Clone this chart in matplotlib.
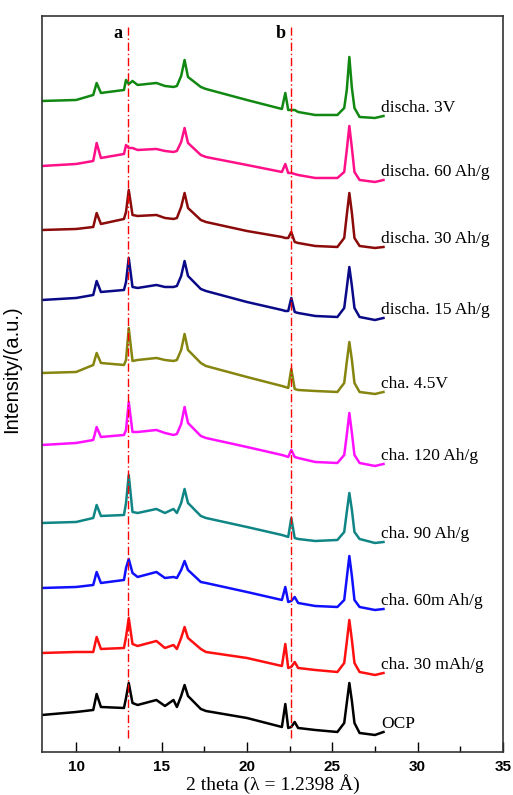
import matplotlib
matplotlib.use("Agg")
import matplotlib.pyplot as plt
from matplotlib.ticker import MultipleLocator

# 2 theta grid (deg) shared by all patterns
two_theta = [8.0, 10.0, 11.0, 11.2, 11.45, 12.8, 12.92, 13.08, 13.3, 13.6, 14.7, 15.2,
             15.7, 15.9, 16.15, 16.35, 16.55, 17.3, 17.6, 20.0, 22.05, 22.25, 22.42, 22.6,
             22.8, 23.0, 24.0, 25.3, 25.7, 25.85, 26.0, 26.15, 26.3, 26.6, 27.5, 28.0]

# stacked intensities (a.u.), top curve first
discha_3V = [651, 652, 657, 669, 659, 662, 672, 668, 671, 667, 669, 666, 665, 666, 676, 692, 675, 665,
             663, 652, 643, 659, 642, 642, 642, 640, 637, 637, 644, 662, 695, 664, 644, 635, 634, 636]
discha_60 = [586, 588, 591, 609, 594, 598, 607, 604, 604, 602, 603, 601, 600, 601, 610, 624, 609, 597,
             595, 587, 580, 588, 579, 579, 578, 577, 574, 574, 580, 602, 626, 604, 580, 572, 570, 572]
discha_30 = [522, 523, 525, 539, 528, 533, 540, 562, 537, 536, 537, 534, 533, 534, 545, 559, 544, 532,
             530, 521, 515, 514, 514, 520, 510, 509, 506, 505, 514, 537, 559, 539, 514, 506, 504, 505]
discha_15 = [452, 454, 457, 471, 460, 462, 470, 494, 465, 464, 467, 465, 465, 466, 476, 491, 476, 463,
             461, 450, 442, 441, 441, 454, 440, 439, 436, 435, 444, 464, 485, 466, 444, 435, 432, 434]
cha_45V = [379, 380, 387, 399, 389, 387, 392, 424, 391, 392, 394, 392, 391, 392, 402, 418, 402, 389,
           386, 375, 366, 365, 364, 383, 363, 362, 361, 360, 369, 390, 410, 392, 369, 360, 358, 360]
cha_120 = [307, 309, 312, 325, 315, 317, 322, 350, 320, 320, 322, 319, 317, 318, 328, 345, 329, 316,
           314, 305, 297, 296, 295, 302, 295, 294, 290, 289, 297, 317, 339, 319, 297, 289, 286, 288]
cha_90 = [229, 230, 234, 247, 236, 237, 249, 277, 240, 239, 243, 239, 243, 239, 249, 263, 249, 236,
          234, 225, 217, 216, 215, 234, 214, 213, 211, 212, 220, 240, 259, 242, 220, 213, 209, 210]
cha_60 = [164, 165, 167, 180, 169, 172, 184, 193, 179, 175, 180, 174, 175, 174, 182, 191, 182, 170,
          169, 160, 152, 165, 150, 151, 155, 149, 146, 145, 152, 174, 196, 176, 152, 145, 142, 143]
cha_30 = [99, 100, 100, 115, 103, 104, 115, 134, 108, 106, 111, 104, 107, 103, 114, 125, 114, 103,
          100, 94, 86, 108, 84, 85, 90, 84, 82, 80, 89, 110, 132, 112, 89, 80, 77, 79]
ocp = [37, 40, 42, 58, 45, 44, 54, 69, 49, 47, 52, 46, 52, 45, 56, 67, 56, 43,
       41, 34, 25, 48, 24, 25, 30, 24, 22, 20, 29, 49, 69, 51, 29, 19, 17, 20]

curves = [discha_3V, discha_60, discha_30, discha_15, cha_45V, cha_120, cha_90, cha_60, cha_30, ocp]
labels = ["discha. 3V", "discha. 60 Ah/g", "discha. 30 Ah/g", "discha. 15 Ah/g", "cha. 4.5V",
          "cha. 120 Ah/g", "cha. 90 Ah/g", "cha. 60m Ah/g", "cha. 30 mAh/g", "OCP"]
colors = ["#118811", "#ff1088", "#8b0a0a", "#0a0a88", "#858510", "#ff10ff", "#108585",
          "#1010ff", "#ff1010", "#000000"]

# reference lines a and b
ref_pos = [13.05, 22.6]
ref_names = ["a", "b"]

fig = plt.figure(figsize=(5.13, 7.95), dpi=100)
ax = fig.add_axes([0.0819, 0.0541, 0.8986, 0.9258])

for y, lab, c in zip(curves, labels, colors):
    ax.plot(two_theta, y, color=c, lw=1.8)
    ax.text(27.85, y[-1] + 8, lab, fontsize=12.5, family="Liberation Serif",
            va="center", ha="left", color="black")

for xp, nm in zip(ref_pos, ref_names):
    ax.plot([xp, xp], [14, 725], color="red", lw=1.0, ls=(0, (6, 2, 1, 2)))
    ax.text(xp - 0.35, 718, nm, fontsize=13, family="Liberation Serif",
            fontweight="bold", ha="right", va="center")

ax.set_xlim(8, 35)
ax.set_ylim(0, 736)
ax.set_yticks([])
ax.xaxis.set_major_locator(MultipleLocator(5))
ax.xaxis.set_minor_locator(MultipleLocator(2.5))
ax.tick_params(axis="x", which="major", direction="in", length=7, width=1, labelsize=11, pad=6)
ax.tick_params(axis="x", which="minor", direction="in", length=4, width=1)
for lbl in ax.get_xticklabels():
    lbl.set_family("Liberation Sans")
    lbl.set_fontweight("bold")
for s in ax.spines.values():
    s.set_color("#333333")
    s.set_linewidth(1.2)

ax.set_xlabel("2 theta (\u03bb = 1.2398 \u00c5)", fontsize=14, family="Liberation Serif", labelpad=0)
ax.set_ylabel("Intensity/(a.u.)", fontsize=14.5, family="Liberation Sans", labelpad=8)
ax.yaxis.set_label_coords(-0.045, 0.52)

plt.savefig("out.png", dpi=100)
plt.close()
